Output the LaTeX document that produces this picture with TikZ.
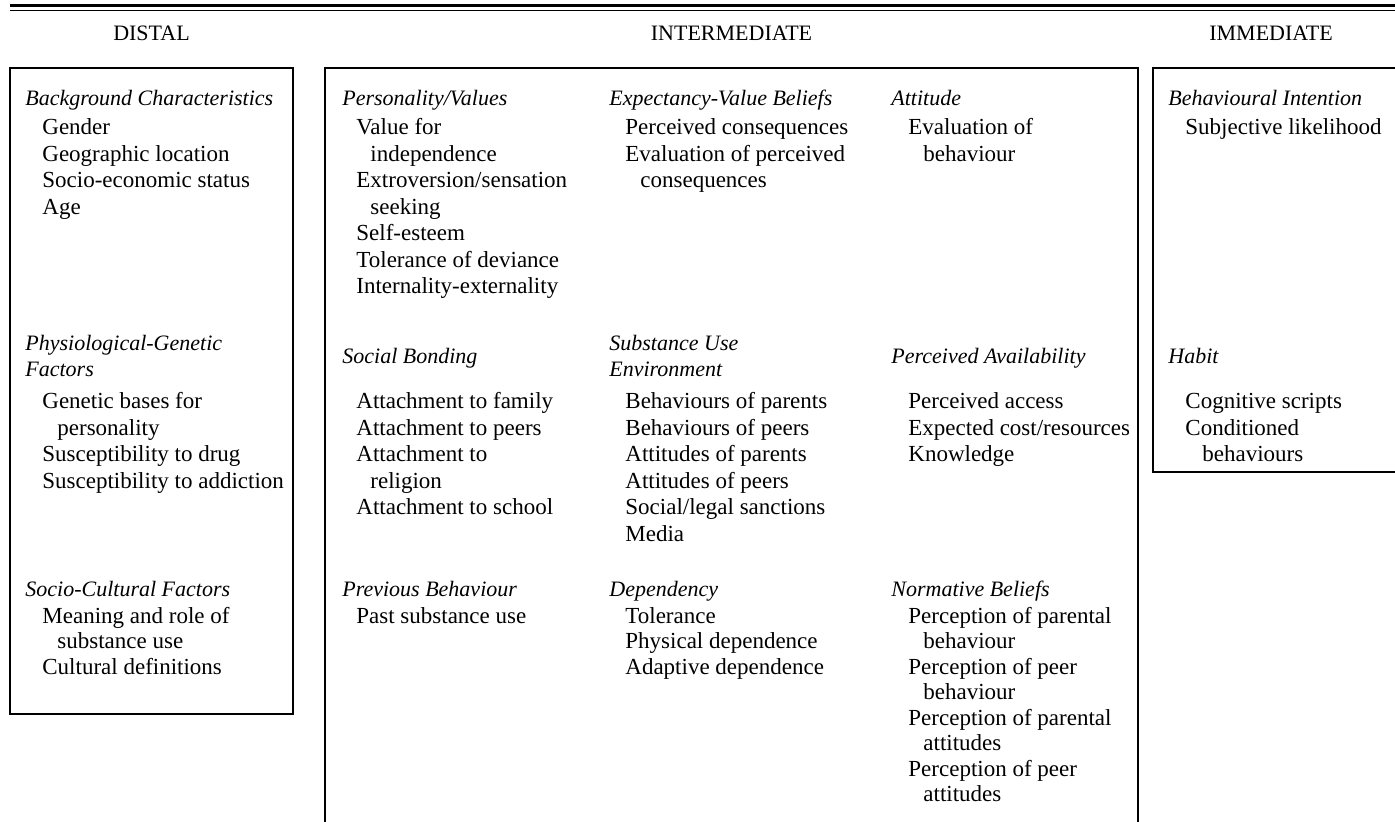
\documentclass[tikz,border=0pt]{standalone}
\usepackage{fontspec}
\setmainfont{Liberation Serif}
\newcounter{lnc}
\tikzset{
  boxrule/.style={line width=0.95pt},
  hdr/.style={font=\fontsize{11}{13}\selectfont, inner sep=0pt, anchor=base},
  headtxt/.style={font=\fontsize{11}{13}\selectfont\itshape, inner sep=0pt, anchor=base west},
  itemtxt/.style={font=\fontsize{11.5}{13}\selectfont, inner sep=0pt, anchor=base west},
}
\newcommand\Lh[3]{\stepcounter{lnc}\node[headtxt] (t\arabic{lnc}) at (#1,#2) {#3};}
\newcommand\Li[3]{\stepcounter{lnc}\node[itemtxt] (t\arabic{lnc}) at (#1,#2) {#3};}
\begin{document}
\begin{tikzpicture}[x=0.5pt,y=-0.5pt]
\useasboundingbox (0,0) rectangle (1395,822);
% top rules
\draw[line width=1.3pt] (10,5.5) -- (1395,5.5);
\draw[line width=0.7pt] (10,10.8) -- (1395,10.8);
% boxes
\draw[boxrule] (10,68) rectangle (293,714);
\draw[boxrule] (325,835) -- (325,68) -- (1138,68) -- (1138,835);
\draw[boxrule] (1153,68) rectangle (1405,472);
% column titles
\node[hdr] (hD) at (151.5,41) {DISTAL};
\node[hdr] (hI) at (731.5,41) {INTERMEDIATE};
\node[hdr] (hM) at (1271,41) {IMMEDIATE};
% ---- Row 1
\Lh{25}{106}{Background Characteristics}
\Li{42}{135}{Gender}
\Li{42}{161.5}{Geographic location}
\Li{42}{188}{Socio-economic status}
\Li{42}{214.5}{Age}
\Lh{342}{106}{Personality/Values}
\Li{356}{135}{Value for}
\Li{370}{161.5}{independence}
\Li{356}{188}{Extroversion/sensation}
\Li{370}{214.5}{seeking}
\Li{356}{241}{Self-esteem}
\Li{356}{267.5}{Tolerance of deviance}
\Li{356}{294}{Internality-externality}
\Lh{609}{106}{Expectancy-Value Beliefs}
\Li{625}{135}{Perceived consequences}
\Li{625}{161.5}{Evaluation of perceived}
\Li{640}{188}{consequences}
\Lh{891}{106}{Attitude}
\Li{908}{135}{Evaluation of}
\Li{923}{161.5}{behaviour}
\Lh{1168}{106}{Behavioural Intention}
\Li{1185}{135}{Subjective likelihood}
% ---- Row 2
\Lh{25}{351}{Physiological-Genetic}
\Lh{25}{377}{Factors}
\Li{42}{409}{Genetic bases for}
\Li{57}{435.5}{personality}
\Li{42}{462}{Susceptibility to drug}
\Li{42}{488.5}{Susceptibility to addiction}
\Lh{342}{364}{Social Bonding}
\Li{356}{409}{Attachment to family}
\Li{356}{435.5}{Attachment to peers}
\Li{356}{462}{Attachment to}
\Li{370}{488.5}{religion}
\Li{356}{515}{Attachment to school}
\Lh{609}{351}{Substance Use}
\Lh{609}{377}{Environment}
\Li{625}{409}{Behaviours of parents}
\Li{625}{435.5}{Behaviours of peers}
\Li{625}{462}{Attitudes of parents}
\Li{625}{488.5}{Attitudes of peers}
\Li{625}{515}{Social/legal sanctions}
\Li{625}{541.5}{Media}
\Lh{891}{364}{Perceived Availability}
\Li{908}{409}{Perceived access}
\Li{908}{435.5}{Expected cost/resources}
\Li{908}{462}{Knowledge}
\Lh{1168}{364}{Habit}
\Li{1185}{409}{Cognitive scripts}
\Li{1185}{435.5}{Conditioned}
\Li{1202}{462}{behaviours}
% ---- Row 3
\Lh{25}{596}{Socio-Cultural Factors}
\Li{42}{623}{Meaning and role of}
\Li{57}{648.5}{substance use}
\Li{42}{674}{Cultural definitions}
\Lh{342}{596}{Previous Behaviour}
\Li{356}{623}{Past substance use}
\Lh{609}{596}{Dependency}
\Li{625}{623}{Tolerance}
\Li{625}{648.5}{Physical dependence}
\Li{625}{674}{Adaptive dependence}
\Lh{891}{596}{Normative Beliefs}
\Li{908}{623}{Perception of parental}
\Li{923}{648.5}{behaviour}
\Li{908}{674}{Perception of peer}
\Li{923}{699.5}{behaviour}
\Li{908}{725}{Perception of parental}
\Li{923}{750.5}{attitudes}
\Li{908}{776}{Perception of peer}
\Li{923}{801.5}{attitudes}
\end{tikzpicture}
\end{document}
